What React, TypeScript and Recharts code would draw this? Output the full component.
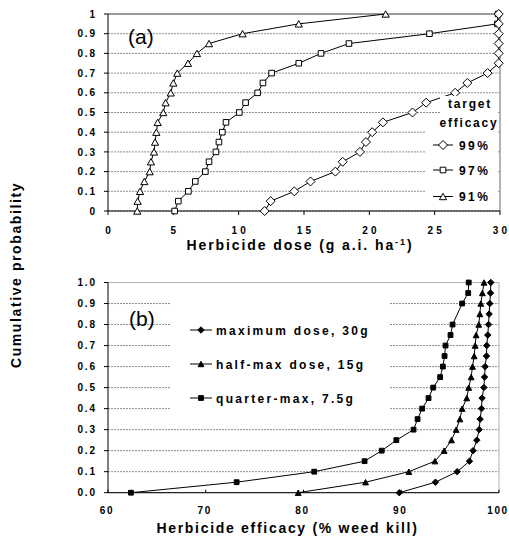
import React from "react";
import { LineChart, Line, XAxis, YAxis, CartesianGrid, ReferenceLine, Label } from "recharts";

// cumulative probability levels shared by every series
const probLevels = [0, 0.05, 0.1, 0.15, 0.2, 0.25, 0.3, 0.35, 0.4, 0.45, 0.5, 0.55, 0.6, 0.65, 0.7, 0.75, 0.8, 0.85, 0.9, 0.95, 1];

// (a) dose needed for each target efficacy
const dose99 = [11.99, 12.45, 14.26, 15.5, 17.4, 17.96, 19.28, 19.74, 20.22, 21.04, 23.3, 24.35, 26.57, 27.5, 29.05, 29.9, 29.9, 29.9, 29.9, 29.9, 29.9];
const dose97 = [5.1, 5.38, 6.15, 6.68, 7.45, 7.73, 8.26, 8.49, 8.75, 9.03, 10.05, 10.53, 11.45, 11.86, 12.52, 14.6, 16.3, 18.44, 24.6, 29.8, 29.85];
const dose91 = [2.24, 2.27, 2.45, 2.78, 3.19, 3.29, 3.52, 3.6, 3.7, 3.8, 4.23, 4.41, 4.8, 5.0, 5.3, 6.12, 6.81, 7.73, 10.3, 14.6, 21.25];

// (b) efficacy reached at each dose
const effMax = [89.8, 93.5, 95.72, 96.98, 97.35, 97.73, 97.97, 98.07, 98.21, 98.27, 98.45, 98.52, 98.58, 98.72, 98.75, 98.85, 98.93, 98.99, 99.06, 99.13, 99.16];
const effHalf = [79.46, 86.35, 90.78, 93.44, 94.39, 95.14, 95.62, 96.0, 96.23, 96.7, 96.9, 97.15, 97.29, 97.46, 97.56, 97.66, 97.93, 98.04, 98.14, 98.3, 98.47];
const effQuarter = [62.35, 73.16, 81.1, 86.25, 88.0, 89.5, 91.26, 91.67, 92.14, 92.79, 93.27, 93.98, 94.26, 94.43, 94.53, 95.04, 95.25, null, 96.23, 96.85, 96.9];

const doseTicks = [0, 5, 10, 15, 20, 25, 30];
const effTicks = [60, 70, 80, 90, 100];
const probTicks = [0, 0.1, 0.2, 0.3, 0.4, 0.5, 0.6, 0.7, 0.8, 0.9, 1];

const legendA = ["99%", "97%", "91%"];
const legendB = ["maximum dose, 30g", "half-max dose, 15g", "quarter-max, 7.5g"];

const FONT = "'Liberation Sans', Arial, Helvetica, sans-serif";
const GRID = "#8f8f8f";

function toPoints(xs: (number | null)[]) {
  return probLevels.map((p, i) => ({ x: xs[i], y: p })).filter((d) => d.x != null);
}

type Shape = "diamond" | "square" | "triangle";

function markerPath(shape: Shape, cx: number, cy: number, small: boolean) {
  if (shape === "diamond") {
    const r = small ? 3.2 : 4.5;
    return `M${cx},${cy - r}L${cx + r},${cy}L${cx},${cy + r}L${cx - r},${cy}Z`;
  }
  if (shape === "square") {
    const h = small ? 2.4 : 2.8;
    return `M${cx - h},${cy - h}H${cx + h}V${cy + h}H${cx - h}Z`;
  }
  const w = small ? 2.9 : 3.6;
  const t = small ? 2.7 : 3.2;
  return `M${cx},${cy - t}L${cx + w},${cy + t}L${cx - w},${cy + t}Z`;
}

function Marker({ shape, cx, cy, filled }: { shape: Shape; cx: number; cy: number; filled?: boolean }) {
  return (
    <path
      d={markerPath(shape, cx, cy, !!filled)}
      fill={filled ? "#000" : "#fff"}
      stroke="#000"
      strokeWidth={1}
    />
  );
}

const dotFor = (shape: Shape, filled: boolean, tag: string) => (p: any) => {
  if (p.cx == null || p.cy == null) return <g key={`${tag}-${p.index}`} />;
  return <Marker key={`${tag}-${p.index}`} shape={shape} cx={p.cx} cy={p.cy} filled={filled} />;
};

function XTick(spacing: number, offset: number, shift: number) {
  return (p: any) => (
    <text
      x={p.x + shift}
      y={p.y + offset}
      textAnchor="middle"
      fontFamily={FONT}
      fontSize={10}
      fontWeight={700}
      fill="#000"
      style={{ letterSpacing: `${spacing}px` }}
    >
      {p.payload.value}
    </text>
  );
}

function YTick(fmt: (v: number) => string) {
  return (p: any) => (
    <text
      x={p.x + 1.8}
      y={p.y + 3.6}
      textAnchor="end"
      fontFamily={FONT}
      fontSize={10}
      fontWeight={700}
      fill="#000"
      style={{ letterSpacing: "1.8px" }}
    >
      {fmt(p.payload.value)}
    </text>
  );
}

const titleStyle = { fontFamily: FONT, fontSize: 14, fontWeight: 700 } as const;

function PanelA() {
  return (
    <LineChart width={509} height={260} margin={{ top: 14, right: 9, bottom: 0, left: 0 }}>
      <CartesianGrid vertical={false} stroke={GRID} strokeDasharray="2 1" />
      <XAxis
        type="number"
        dataKey="x"
        domain={[0, 30]}
        ticks={doseTicks}
        interval={0}
        height={49}
        tickSize={4}
        tickMargin={0}
        stroke="#000"
        tick={XTick(3.2, 19, 1.6)}
      >
        <Label
          content={(props: any) => {
            const vb = props.viewBox;
            return (
              <text x={vb.x + vb.width / 2 - 4} y={vb.y + 39} textAnchor="middle" fill="#000" {...titleStyle} style={{ letterSpacing: "1.9px" }}>
                Herbicide dose (g a.i. ha
                <tspan dy={-5} fontSize={9}>-1</tspan>
                <tspan dy={5}>)</tspan>
              </text>
            );
          }}
        />
      </XAxis>
      <YAxis
        type="number"
        domain={[0, 1]}
        ticks={probTicks}
        interval={0}
        width={108}
        tickSize={4}
        tickMargin={9}
        stroke="#000"
        tick={YTick((v) => String(v))}
      />
      <ReferenceLine y={1} stroke="#9a9a9a" strokeWidth={2} />
      <ReferenceLine x={30} stroke="#9a9a9a" strokeWidth={1.5} />
      <Line data={toPoints(dose91)} dataKey="y" type="linear" stroke="#000" strokeWidth={1} isAnimationActive={false} dot={dotFor("triangle", false, "a91")} />
      <Line data={toPoints(dose97)} dataKey="y" type="linear" stroke="#000" strokeWidth={1} isAnimationActive={false} dot={dotFor("square", false, "a97")} />
      <Line data={toPoints(dose99)} dataKey="y" type="linear" stroke="#000" strokeWidth={1} isAnimationActive={false} dot={dotFor("diamond", false, "a99")} />
    </LineChart>
  );
}

function PanelB() {
  return (
    <LineChart width={509} height={278} margin={{ top: 22.5, right: 10, bottom: 0, left: 0 }}>
      <CartesianGrid vertical={false} stroke={GRID} strokeDasharray="2 1" />
      <XAxis
        type="number"
        dataKey="x"
        domain={[60, 100]}
        ticks={effTicks}
        interval={0}
        height={45.3}
        tickSize={-3}
        tickMargin={0}
        stroke="#000"
        tick={XTick(1.6, 24, -1)}
      >
        <Label
          content={(props: any) => {
            const vb = props.viewBox;
            return (
              <text x={vb.x + vb.width / 2 - 16} y={vb.y + 40.5} textAnchor="middle" fill="#000" {...titleStyle} style={{ letterSpacing: "1.7px" }}>
                Herbicide efficacy (% weed kill)
              </text>
            );
          }}
        />
      </XAxis>
      <YAxis
        type="number"
        domain={[0, 1]}
        ticks={probTicks}
        interval={0}
        width={108}
        tickSize={4}
        tickMargin={9}
        stroke="#000"
        tick={YTick((v) => v.toFixed(1))}
      />
      <ReferenceLine y={1} stroke="#b0b0b0" strokeWidth={1} />
      <ReferenceLine x={100} stroke="#b0b0b0" strokeWidth={1} />
      <Line data={toPoints(effQuarter)} dataKey="y" type="linear" stroke="#000" strokeWidth={1} isAnimationActive={false} dot={dotFor("square", true, "bq")} />
      <Line data={toPoints(effHalf)} dataKey="y" type="linear" stroke="#000" strokeWidth={1} isAnimationActive={false} dot={dotFor("triangle", true, "bh")} />
      <Line data={toPoints(effMax)} dataKey="y" type="linear" stroke="#000" strokeWidth={1} isAnimationActive={false} dot={dotFor("diamond", true, "bm")} />
    </LineChart>
  );
}

function Overlay() {
  const shapesA: Shape[] = ["diamond", "square", "triangle"];
  const shapesB: Shape[] = ["diamond", "triangle", "square"];
  const rowsA = [145, 170, 196.5];
  const rowsB = [330, 364, 398];
  return (
    <svg width={509} height={538} style={{ position: "absolute", left: 0, top: 0, pointerEvents: "none" }}>
      {/* y title shared by both panels */}
      <text
        transform="translate(21,275) rotate(-90)"
        textAnchor="middle"
        fill="#000"
        {...titleStyle}
        style={{ letterSpacing: "1.6px" }}
      >
        Cumulative probability
      </text>
      <text x={128} y={43.6} fontFamily={FONT} fontSize={21} fill="#000">(a)</text>
      <text x={129} y={325.6} fontFamily={FONT} fontSize={21} fill="#000">(b)</text>

      {/* legend (a) */}
      <rect x={440} y={96} width={57} height={34} fill="#fff" />
      <rect x={425} y={130} width={72} height={77} fill="#fff" />
      <g fontFamily={FONT} fontSize={12} fontWeight={700} fill="#000">
        <text x={470} y={107.5} textAnchor="middle" style={{ letterSpacing: "1.8px" }}>target</text>
        <text x={469} y={127} textAnchor="middle" style={{ letterSpacing: "1.8px" }}>efficacy</text>
        {legendA.map((s, i) => (
          <g key={s}>
            <line x1={433} x2={453} y1={rowsA[i]} y2={rowsA[i]} stroke="#000" />
            <Marker shape={shapesA[i]} cx={443} cy={rowsA[i]} />
            <text x={459} y={rowsA[i] + 4.5} style={{ letterSpacing: "2.4px" }}>{s}</text>
          </g>
        ))}
      </g>

      {/* legend (b) */}
      <rect x={170} y={296} width={220} height={120} fill="#fff" />
      <g fontFamily={FONT} fontSize={12} fontWeight={700} fill="#000">
        {legendB.map((s, i) => (
          <g key={s}>
            <line x1={190} x2={212} y1={rowsB[i]} y2={rowsB[i]} stroke="#000" />
            <Marker shape={shapesB[i]} cx={201} cy={rowsB[i]} filled />
            <text x={216} y={rowsB[i] + 4.5} style={{ letterSpacing: "2.3px" }}>{s}</text>
          </g>
        ))}
      </g>
    </svg>
  );
}

export default function App() {
  return (
    <div style={{ position: "absolute", left: 0, top: 0, width: 509, height: 538, background: "#fff" }}>
      <div style={{ position: "absolute", left: 0, top: 0 }}>
        <PanelA />
      </div>
      <div style={{ position: "absolute", left: 0, top: 260 }}>
        <PanelB />
      </div>
      <Overlay />
    </div>
  );
}
